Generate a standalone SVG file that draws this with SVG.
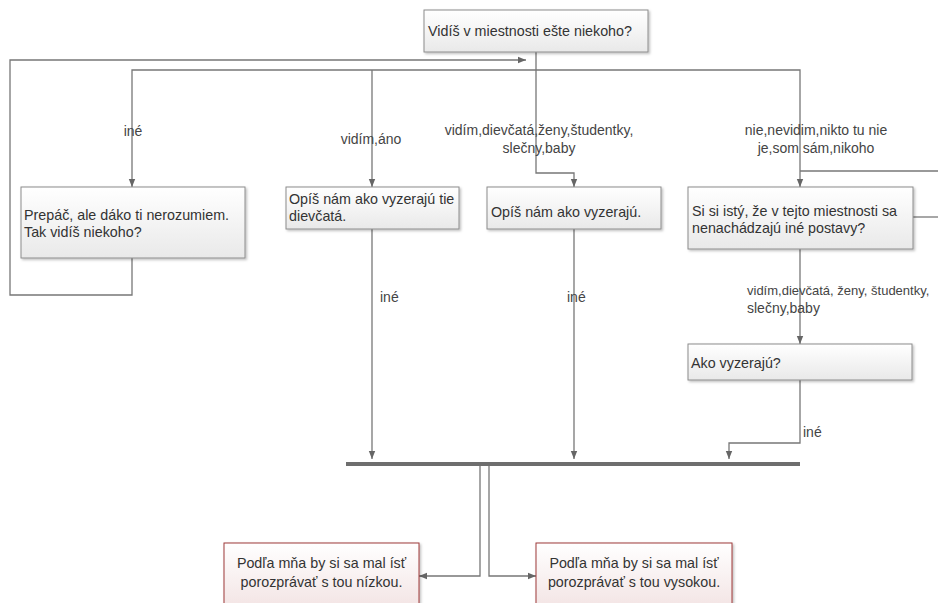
<svg xmlns="http://www.w3.org/2000/svg" width="938" height="603" viewBox="0 0 938 603">
<defs>
<linearGradient id="gGray" x1="0" y1="0" x2="0" y2="1"><stop offset="0" stop-color="#ffffff"/><stop offset="1" stop-color="#e9e9e9"/></linearGradient>
<linearGradient id="gRed" x1="0" y1="0" x2="0" y2="1"><stop offset="0" stop-color="#ffffff"/><stop offset="1" stop-color="#f2e2e2"/></linearGradient>
<filter id="sh" x="-5%" y="-5%" width="115%" height="130%"><feDropShadow dx="1.5" dy="1.5" stdDeviation="1" flood-color="#000" flood-opacity="0.25"/></filter>
<marker id="arr" viewBox="0 0 10 10" refX="10" refY="5" markerWidth="8" markerHeight="8" markerUnits="userSpaceOnUse" orient="auto"><path d="M0,1 L10,5 L0,9 z" fill="#666"/></marker>
<style>
.box{fill:url(#gGray);stroke:#8c8c8c;stroke-width:1;filter:url(#sh)}
.rbox{fill:url(#gRed);stroke:#9e3b3b;stroke-width:1;filter:url(#sh)}
.t{font-family:"Liberation Sans",Arial,sans-serif;font-size:14.3px;fill:#333}
.c{text-anchor:middle}
.lbl{font-family:"Liberation Sans",Arial,sans-serif;font-size:14px;fill:#444}
.ln{fill:none;stroke:#777;stroke-width:1.3}
.la{fill:none;stroke:#777;stroke-width:1.3;marker-end:url(#arr)}
</style>
</defs>
<rect width="938" height="603" fill="#fff"/>
<g id="connectors">
<path class="la" d="M132,258 V295 H10 V60 H526"/>
<path class="la" d="M536,52 V173 H574 V187"/>
<path class="la" d="M536,70 H132 V187"/>
<path class="la" d="M372,70 V187"/>
<path class="la" d="M536,70 H800 V187"/>
<path class="ln" d="M938,171 H800"/>
<path class="ln" d="M913,217 H938"/>
<path class="la" d="M800,249 V344"/>
<path class="la" d="M372,229 V459"/>
<path class="la" d="M574,229 V459"/>
<path class="la" d="M800,380 V443 H729 V459"/>
<line x1="346" y1="464" x2="800" y2="464" stroke="#6e6e6e" stroke-width="4"/>
<path class="la" d="M480,466 V576 H419"/>
<path class="la" d="M489,466 V576 H536"/>
<text class="lbl c" x="133" y="136">iné</text>
<text class="lbl c" x="371" y="144">vidím,áno</text>
<text class="lbl c" x="539" y="135">vidím,dievčatá,ženy,študentky,</text>
<text class="lbl c" x="539" y="153">slečny,baby</text>
<text class="lbl c" x="816" y="135">nie,nevidim,nikto tu nie</text>
<text class="lbl c" x="816" y="153">je,som sám,nikoho</text>
<text class="lbl" x="380" y="302">iné</text>
<text class="lbl" x="567" y="302">iné</text>
<text class="lbl" x="747" y="295" style="font-size:13px">vidím,dievčatá, ženy, študentky,</text>
<text class="lbl" x="747" y="313">slečny,baby</text>
<text class="lbl" x="803" y="437">iné</text>
</g>
<g id="n_vidis">
<rect class="box" x="424" y="10" width="224" height="42"/>
<text class="t" x="428" y="36">Vidíš v miestnosti ešte niekoho?</text>
</g>
<g id="n_prepac">
<rect class="box" x="21" y="187" width="224" height="71"/>
<text class="t" x="24" y="220">Prepáč, ale dáko ti nerozumiem.</text>
<text class="t" x="24" y="237">Tak vidíš niekoho?</text>
</g>
<g id="n_opis_tie">
<rect class="box" x="286" y="187" width="173" height="42"/>
<text class="t" x="289" y="204">Opíš nám ako vyzerajú tie</text>
<text class="t" x="289" y="221">dievčatá.</text>
</g>
<g id="n_opis">
<rect class="box" x="487" y="187" width="174" height="42"/>
<text class="t" x="491" y="217">Opíš nám ako vyzerajú.</text>
</g>
<g id="n_isty">
<rect class="box" x="688" y="187" width="225" height="62"/>
<text class="t" x="692" y="216">Si si istý, že v tejto miestnosti sa</text>
<text class="t" x="692" y="233">nenachádzajú iné postavy?</text>
</g>
<g id="n_ako">
<rect class="box" x="688" y="344" width="224" height="36"/>
<text class="t" x="691" y="368">Ako vyzerajú?</text>
</g>
<g id="n_nizka">
<rect class="rbox" x="224" y="543" width="195" height="70"/>
<text class="t c" x="321.5" y="568">Podľa mňa by si sa mal ísť</text>
<text class="t c" x="321.5" y="587">porozprávať s tou nízkou.</text>
</g>
<g id="n_vysoka">
<rect class="rbox" x="536" y="543" width="196" height="70"/>
<text class="t c" x="634" y="568">Podľa mňa by si sa mal ísť</text>
<text class="t c" x="634" y="587">porozprávať s tou vysokou.</text>
</g>
</svg>
